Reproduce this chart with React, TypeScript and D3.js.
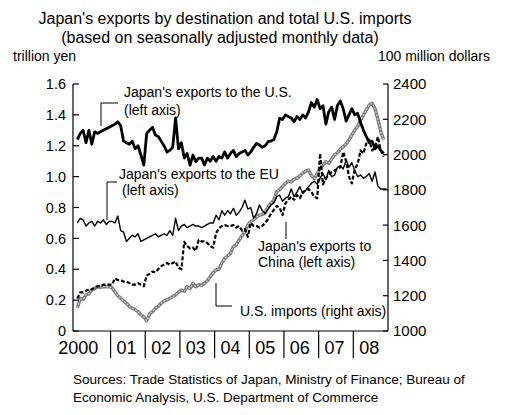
import * as d3 from "d3";

// monthly series, Jan 2000 onwards
const usExports = [
  1.24, 1.28, 1.3, 1.22, 1.3, 1.21, 1.29, 1.28, 1.29, 1.3, 1.31, 1.32,
  1.33, 1.34, 1.355, 1.33, 1.23, 1.22, 1.21, 1.23, 1.18, 1.2, 1.14, 1.075,
  1.28, 1.3, 1.32, 1.27, 1.26, 1.23, 1.2, 1.16, 1.17, 1.19, 1.38, 1.18,
  1.22, 1.12, 1.15, 1.075, 1.14, 1.097, 1.12, 1.12, 1.075, 1.12, 1.1, 1.13,
  1.1, 1.13, 1.12, 1.16, 1.12, 1.15, 1.17, 1.13, 1.15, 1.16, 1.17, 1.14,
  1.16, 1.19, 1.215, 1.205, 1.19, 1.2, 1.226, 1.23, 1.24, 1.29, 1.378, 1.37,
  1.4, 1.39, 1.38, 1.355, 1.39, 1.37, 1.4, 1.38, 1.42, 1.48, 1.45, 1.5,
  1.44, 1.46, 1.34, 1.42, 1.45, 1.37, 1.46, 1.49, 1.44, 1.36, 1.4, 1.44,
  1.4, 1.41, 1.35, 1.3, 1.26, 1.22, 1.23, 1.18, 1.2, 1.17, 1.15,
];

const euExports = [
  0.7, 0.73, 0.72, 0.68, 0.7, 0.71, 0.68, 0.71, 0.7, 0.72, 0.69, 0.71,
  0.71, 0.7, 0.745, 0.65, 0.64, 0.58, 0.6, 0.62, 0.61, 0.63, 0.58, 0.59,
  0.6, 0.61, 0.62, 0.63, 0.61, 0.62, 0.63, 0.62, 0.65, 0.62, 0.73, 0.65,
  0.68, 0.69, 0.67, 0.68, 0.69, 0.68, 0.68, 0.67, 0.68, 0.69, 0.7, 0.7,
  0.75, 0.72, 0.78, 0.75, 0.78, 0.76, 0.795, 0.75, 0.77, 0.8, 0.848, 0.79,
  0.8, 0.73, 0.76, 0.816, 0.78, 0.76, 0.79, 0.816, 0.83, 0.87, 0.88, 0.84,
  0.86, 0.87, 0.92, 0.87, 0.9, 0.935, 0.89, 0.91, 0.935, 0.956, 0.97, 0.95,
  0.99, 1.02, 0.98, 1.04, 1.0, 1.01, 1.06, 1.07, 1.05, 1.107, 1.06, 1.09,
  1.04, 1.0, 1.01, 0.99, 1.0, 1.02, 0.97, 1.03, 0.94, 0.92, 0.92, 0.92,
];

const chinaExports = [
  0.21, 0.25, 0.25, 0.26, 0.27, 0.27, 0.28, 0.29, 0.29, 0.3, 0.3, 0.3,
  0.3, 0.34, 0.33, 0.33, 0.32, 0.32, 0.31, 0.3, 0.3, 0.31, 0.3, 0.29,
  0.36, 0.37, 0.385, 0.38, 0.4, 0.42, 0.43, 0.44, 0.43, 0.44, 0.45, 0.41,
  0.4, 0.578, 0.55, 0.535, 0.54, 0.52, 0.59, 0.58, 0.58, 0.57, 0.55, 0.54,
  0.634, 0.665, 0.68, 0.686, 0.68, 0.68, 0.686, 0.67, 0.68, 0.65, 0.66, 0.61,
  0.7, 0.68, 0.68, 0.67, 0.68, 0.7, 0.725, 0.76, 0.784, 0.81, 0.8, 0.75,
  0.827, 0.85, 0.87, 0.85, 0.88, 0.86, 0.9, 0.91, 0.92, 0.9, 0.87, 0.86,
  1.15, 0.95, 0.99, 1.01, 1.03, 1.04, 1.05, 1.06, 1.16, 1.1, 1.0, 0.956,
  1.05, 1.08, 1.17, 1.15, 1.215, 1.24, 1.17, 1.19, 1.258, 1.17, 1.13,
];

const usImports = [
  1130, 1185, 1178, 1204, 1210, 1232, 1240, 1251, 1248, 1252, 1250, 1251,
  1245, 1223, 1200, 1185, 1170, 1157, 1140, 1129, 1120, 1110, 1091, 1080,
  1059, 1097, 1110, 1129, 1140, 1157, 1170, 1176, 1185, 1195, 1204, 1220,
  1232, 1225, 1251, 1240, 1270, 1251, 1262, 1258, 1270, 1285, 1308, 1330,
  1346, 1350, 1385, 1412, 1425, 1440, 1478, 1490, 1516, 1540, 1563, 1600,
  1620, 1630, 1645, 1657, 1660, 1670, 1704, 1725, 1742, 1790, 1800, 1820,
  1837, 1850, 1845, 1860, 1866, 1880, 1894, 1905, 1913, 1880, 1865, 1890,
  1922, 1940, 1960, 1950, 1975, 1998, 2010, 2030, 2045, 2060, 2083, 2110,
  2140, 2158, 2196, 2225, 2253, 2280, 2291, 2260, 2200, 2130, 2083,
];

const yearLabels = ["2000", "01", "02", "03", "04", "05", "06", "07", "08"];
const leftTicks = [0, 0.2, 0.4, 0.6, 0.8, 1.0, 1.2, 1.4, 1.6];
const rightTicks = [1000, 1200, 1400, 1600, 1800, 2000, 2200, 2400];

const W = 506;
const H = 415;
const FONT = "'Liberation Sans', Arial, Helvetica, sans-serif";

const App = () => {
  const x = d3.scaleLinear().domain([-1.5, 107.5]).range([73, 388]);
  const yL = d3.scaleLinear().domain([0, 1.6]).range([331, 84]);
  const yR = d3.scaleLinear().domain([1000, 2400]).range([331, 84]);

  const lineL = d3
    .line<number>()
    .x((_, i) => x(i))
    .y((d) => yL(d));
  const lineR = d3
    .line<number>()
    .x((_, i) => x(i))
    .y((d) => yR(d));

  const [x0, x1] = x.range();
  const [yBottom, yTop] = yL.range();

  return (
    <svg
      width={W}
      height={H}
      style={{ position: "absolute", left: 0, top: 0, background: "#fff" }}
      fontFamily={FONT}
    >
      {/* title */}
      <text x={225} y={24} fontSize={16} textAnchor="middle">
        Japan's exports by destination and total U.S. imports
      </text>
      <text x={220} y={43} fontSize={16} textAnchor="middle">
        (based on seasonally adjusted monthly data)
      </text>
      <text x={13} y={61} fontSize={14}>
        trillion yen
      </text>
      <text x={490} y={61} fontSize={14} textAnchor="end">
        100 million dollars
      </text>

      {/* series */}
      <g fill="none" strokeLinejoin="round">
        <path d={lineR(usImports) ?? ""} stroke="#7a7a7a" strokeWidth={3.4} />
        <path
          d={lineR(usImports) ?? ""}
          stroke="#d0d0d0"
          strokeWidth={1.2}
          strokeDasharray="2,1.5"
        />
        <path d={lineL(euExports) ?? ""} stroke="#000" strokeWidth={1.4} />
        <path
          d={lineL(chinaExports) ?? ""}
          stroke="#000"
          strokeWidth={2.2}
          strokeDasharray="4,2"
        />
        <path d={lineL(usExports) ?? ""} stroke="#000" strokeWidth={2.8} />
      </g>

      {/* axes */}
      <g stroke="#000" strokeWidth={1.2} fill="none">
        <line x1={x0} x2={x0} y1={yTop} y2={yBottom} />
        <line x1={x1} x2={x1} y1={yTop} y2={yBottom} />
        <line x1={x0} x2={x1} y1={yBottom} y2={yBottom} />
        {leftTicks.map((t) => (
          <line key={"l" + t} x1={x0} x2={x0 + 6} y1={yL(t)} y2={yL(t)} />
        ))}
        {rightTicks.map((t) => (
          <line key={"r" + t} x1={x1 - 5} x2={x1} y1={yR(t)} y2={yR(t)} />
        ))}
        {yearLabels.slice(1).map((_, i) => (
          <line
            key={"d" + i}
            x1={x((i + 1) * 12 - 0.5)}
            x2={x((i + 1) * 12 - 0.5)}
            y1={yBottom}
            y2={yBottom + 27}
          />
        ))}
      </g>
      <g fontSize={14.5} textAnchor="end">
        {leftTicks.map((t) => (
          <text key={t} x={x0 - 7} y={yL(t)} dy="0.36em">
            {t === 0 ? "0" : d3.format(".1f")(t)}
          </text>
        ))}
      </g>
      <g fontSize={15}>
        {rightTicks.map((t) => (
          <text key={t} x={x1 + 5} y={yR(t)} dy="0.36em">
            {t}
          </text>
        ))}
      </g>
      <g fontSize={18} textAnchor="middle" fontFamily={"'Liberation Sans Narrow', 'Arial Narrow', " + FONT}>
        {yearLabels.map((lab, i) => (
          <text key={lab} x={i === 0 ? x(0) + 1 : x(i * 12 + 5)} y={354}>
            {lab}
          </text>
        ))}
      </g>

      {/* annotations */}
      <g fontSize={14}>
        <text x={124} y={97}>Japan's exports to the U.S.</text>
        <text x={124} y={115}>(left axis)</text>
        <text x={119} y={179}>Japan's exports to the EU</text>
        <text x={122} y={195}>(left axis)</text>
        <text x={258} y={251}>Japan's exports to</text>
        <text x={258} y={267}>China (left axis)</text>
        <text x={240} y={316}>U.S. imports (right axis)</text>
      </g>
      <g stroke="#000" strokeWidth={1} fill="none">
        <path d="M101,126V103H118" />
        <path d="M107,220V182H117" />
        <path d="M286,222V239" />
        <path d="M216,283V306H232" />
      </g>

      {/* sources */}
      <g fontSize={13.5}>
        <text x={73} y={384}>
          Sources: Trade Statistics of Japan, Ministry of Finance; Bureau of
        </text>
        <text x={73} y={402}>
          Economic Analysis, U.S. Department of Commerce
        </text>
      </g>
    </svg>
  );
};

export default App;
